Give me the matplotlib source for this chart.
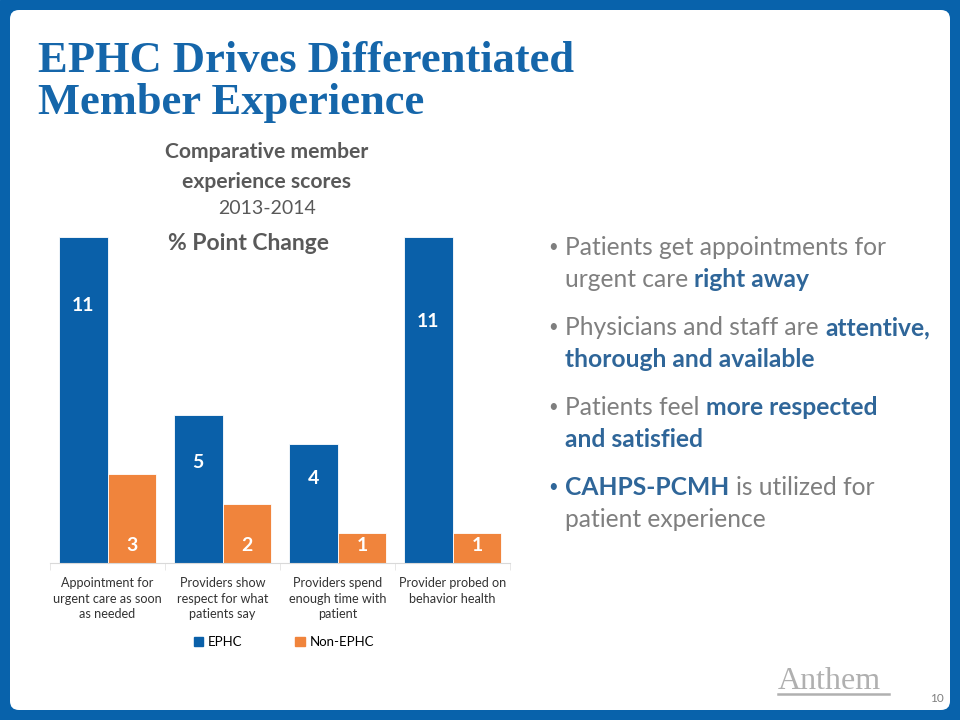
import numpy as np
import matplotlib
matplotlib.use("Agg")
import matplotlib.pyplot as plt
from matplotlib.patches import FancyBboxPatch, Rectangle, Patch

# chart data
categories = ["Appointment for\nurgent care as soon\nas needed",
              "Providers show\nrespect for what\npatients say",
              "Providers spend\nenough time with\npatient",
              "Provider probed on\nbehavior health"]
ephc = [11, 5, 4, 11]
non_ephc = [3, 2, 1, 1]
series_names = ["EPHC", "Non-EPHC"]

# where the value labels sit inside the bars (data units)
ephc_label_y = [8.7, 3.4, 2.85, 8.15]
non_label_y = [0.6, 0.6, 0.6, 0.6]

bullets = [
    [[("Patients get appointments for", False)],
     [("urgent care", False), ("right away", True)]],
    [[("Physicians and staff are", False), ("attentive,", True)],
     [("thorough and available", True)]],
    [[("Patients feel", False), ("more respected", True)],
     [("and satisfied", True)]],
    [[("CAHPS-PCMH", True), ("is utilized for", False)],
     [("patient experience", False)]],
]

BLUE = "#0a60a9"
ORANGE = "#f0843c"
GRAY = "#7f7f7f"
DARK = "#595959"
BOLD_BLUE = "#2f6699"
SANS = ["Lato", "DejaVu Sans"]

fig = plt.figure(figsize=(9.6, 7.2), dpi=100)

# background frame, pixel coordinates
bg = fig.add_axes([0, 0, 1, 1], zorder=0)
bg.set_xlim(0, 960)
bg.set_ylim(720, 0)
bg.axis("off")
bg.add_patch(Rectangle((0, 0), 960, 720, color="#0862ab"))
bg.add_patch(FancyBboxPatch((10, 10), 940, 700, boxstyle="round,pad=0,rounding_size=9",
                            facecolor="white", edgecolor="none"))

bg.text(38, 72, "EPHC Drives Differentiated", family="Liberation Serif", weight="bold",
        fontsize=32, color="#1566aa", va="baseline")
bg.text(38, 114, "Member Experience", family="Liberation Serif", weight="bold",
        fontsize=32, color="#1566aa", va="baseline")

bg.text(267, 152, "Comparative member", family=SANS, weight="bold", fontsize=15.2,
        color=DARK, ha="center", va="center")
bg.text(267, 182, "experience scores", family=SANS, weight="bold", fontsize=15.2,
        color=DARK, ha="center", va="center")
bg.text(267, 209, "2013-2014", family=SANS, fontsize=14, color=DARK, ha="center", va="center")
bg.text(248, 244, "% Point Change", family=SANS, weight="bold", fontsize=16.5,
        color=DARK, ha="center", va="center")

# bullets with mixed weights
renderer = fig.canvas.get_renderer()
FS = 17.7
def width_of(s, bold):
    t = bg.text(0, 0, s, family=SANS, fontsize=FS, weight="bold" if bold else "normal")
    w = t.get_window_extent(renderer).width
    t.remove()
    return w

space = width_of("a a", False) - width_of("aa", False)
y0 = 255
for i, para in enumerate(bullets):
    yb = y0 + i * 80
    bcol = BOLD_BLUE if para[0][0][1] else GRAY
    bg.text(553, yb - 8, "\u2022", family=SANS, fontsize=12, color=bcol, ha="center", va="center")
    for j, line in enumerate(para):
        x = 565
        for s, bold in line:
            t = bg.text(x, yb + j * 32, s, family=SANS, fontsize=FS,
                        weight="bold" if bold else "normal",
                        color=BOLD_BLUE if bold else GRAY, va="baseline")
            x += t.get_window_extent(renderer).width + space

# logo and page number
bg.text(778, 689, "Anthem", family="Liberation Serif", fontsize=23, color="#b0b0b0", va="baseline")
bg.plot([778, 889], [694, 694], color="#b0b0b0", lw=1.8)
bg.text(944, 699, "10", family=SANS, fontsize=8.5, color=GRAY, ha="right", va="center")

# bar chart
ax = fig.add_axes([50 / 960, 1 - 563 / 720, 460 / 960, 326 / 720], zorder=1)
ax.patch.set_alpha(0)
x = np.arange(len(categories))
w = 0.425
ax.bar(x - w / 2, ephc, w, color=BLUE, edgecolor="white", linewidth=0.6)
ax.bar(x + w / 2, non_ephc, w, color=ORANGE, edgecolor="white", linewidth=0.6)
for i in range(len(categories)):
    ax.text(x[i] - w / 2, ephc_label_y[i], str(ephc[i]), ha="center", va="center",
            color="white", weight="bold", fontsize=14, family=SANS)
    ax.text(x[i] + w / 2, non_label_y[i], str(non_ephc[i]), ha="center", va="center",
            color="white", weight="bold", fontsize=14, family=SANS)

ax.set_xlim(-0.5, 3.5)
ax.set_ylim(0, 11)
for s in ["top", "right", "left"]:
    ax.spines[s].set_visible(False)
ax.spines["bottom"].set_color("#d9d9d9")
ax.set_yticks([])
ax.set_xticks(x)
ax.set_xticklabels(categories, family=SANS, fontsize=9.1, color="#333333", linespacing=1.38)
ax.tick_params(axis="x", length=0, pad=10)
ax.set_xticks(np.arange(-0.5, 4, 1), minor=True)
ax.tick_params(axis="x", which="minor", length=5, color="#e3e3e3")

handles = [Patch(color=BLUE), Patch(color=ORANGE)]
fig.legend(handles, series_names, loc="center", bbox_to_anchor=(284 / 960, 1 - 642 / 720),
           ncol=2, frameon=False, handlelength=0.7, handleheight=0.7, handletextpad=0.4,
           columnspacing=4.0, prop={"family": SANS, "size": 9.5})

fig.savefig("out.png", dpi=100)
